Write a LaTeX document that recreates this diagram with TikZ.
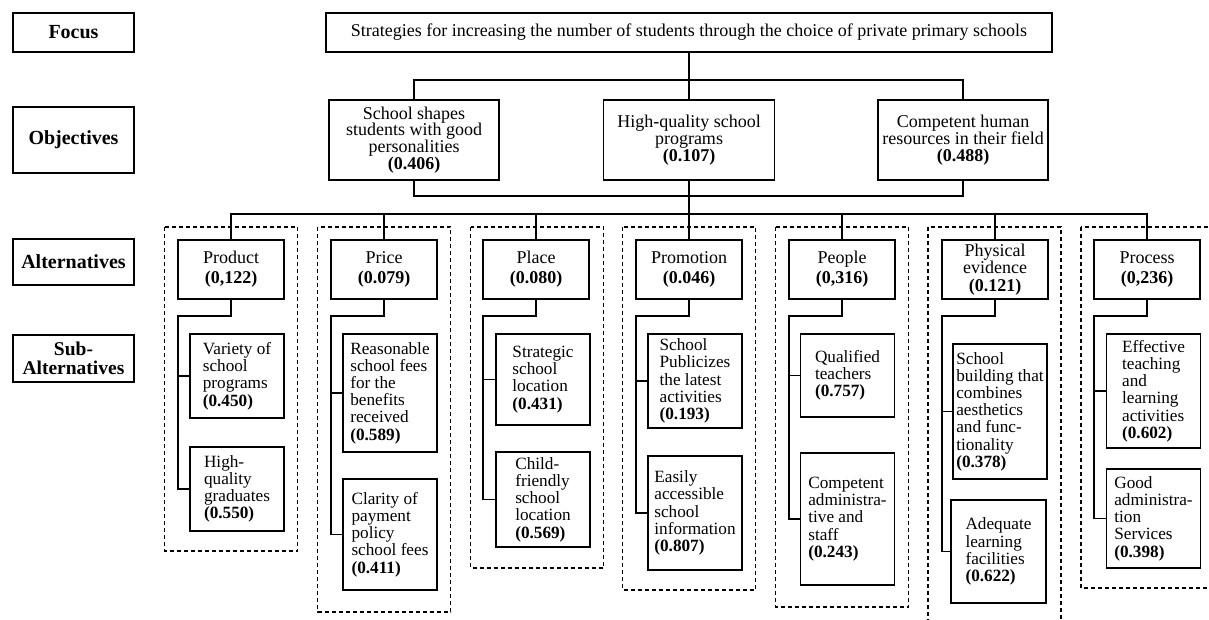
\documentclass[tikz,border=0pt]{standalone}
\usepackage{fontspec}
\setmainfont{Liberation Serif}
\begin{document}
\begin{tikzpicture}[x=1pt,y=-1pt,
  box/.style={draw, line width=1.1pt, inner sep=0pt, align=center, font=\fontsize{18}{16.8}\selectfont},
  lab/.style={draw, line width=2.4pt, inner sep=0pt, align=center, font=\fontsize{20}{16.5}\selectfont\bfseries, minimum width=121pt},
  alt/.style={box, minimum width=106pt, minimum height=59pt, font=\fontsize{18}{20}\selectfont},
  sub/.style={box, minimum width=94pt, align=left, font=\fontsize{17.2}{17.2}\selectfont},
  con/.style={line width=1.1pt},
  grp/.style={line width=1.2pt, dash pattern=on 4pt off 3pt}]
\useasboundingbox (0,0) rectangle (1209,619);
\clip (0,0) rectangle (1209,619);

% level labels
\node[lab, minimum height=39pt] (Lfocus) at (73.5,32.5) {Focus};
\node[lab, minimum height=66pt] (Lobj) at (73.5,140) {Objectives};
\node[lab, minimum height=46pt] (Lalt) at (73.5,262) {Alternatives};
\node[lab, minimum height=47pt, font=\fontsize{19.5}{19.5}\selectfont\bfseries] (Lsub) at (73.5,358.5) {Sub-\\Alternatives};

% focus and objectives
\node[box, minimum width=726pt, minimum height=39pt] (focus) at (689,32.5) {Strategies for increasing the number of students through the choice of private primary schools};
\node[box, minimum width=170pt, minimum height=80pt] (o1) at (414,140) {School shapes\\students with good\\personalities\\\textbf{(0.406)}};
\node[box, minimum width=171pt, minimum height=80pt] (o2) at (689,140) {High-quality school\\programs\\\textbf{(0.107)}};
\node[box, minimum width=170pt, minimum height=80pt] (o3) at (963,140) {Competent human\\resources in their field\\\textbf{(0.488)}};

% group frames
\draw[grp] (164.5,227) rectangle (297.5,551);
\draw[grp] (317.5,227) rectangle (450.5,612);
\draw[grp] (470.5,227) rectangle (603.5,568);
\draw[grp] (622.5,227) rectangle (755.5,590);
\draw[grp] (775.5,227) rectangle (908.5,607);
\draw[grp] (928,227) rectangle (1061,640);
\draw[grp] (1081,227) rectangle (1214,588);

% alternatives
\node[alt] (a1) at (231,269.5) {Product\\\textbf{(0,122)}};
\node[alt] (a2) at (384,269.5) {Price\\\textbf{(0.079)}};
\node[alt] (a3) at (536,269.5) {Place\\\textbf{(0.080)}};
\node[alt] (a4) at (689,269.5) {Promotion\\\textbf{(0.046)}};
\node[alt] (a5) at (842,269.5) {People\\\textbf{(0,316)}};
\node[alt, font=\fontsize{18}{17.5}\selectfont] (a6) at (995,269.5) {Physical\\evidence\\\textbf{(0.121)}};
\node[alt] (a7) at (1147,269.5) {Process\\\textbf{(0,236)}};

% sub-alternatives
\node[sub, minimum height=84pt] (s11) at (237,376) {Variety of\\school\\programs\\\textbf{(0.450)}};
\node[sub, minimum height=84pt] (s12) at (237,489) {High-\\quality\\graduates\\\textbf{(0.550)}};
\node[sub, minimum height=118pt] (s21) at (390,393) {Reasonable\\school fees\\for the\\benefits\\received\\\textbf{(0.589)}};
\node[sub, minimum height=111pt] (s22) at (390,534.5) {Clarity of\\payment\\policy\\school fees\\\textbf{(0.411)}};
\node[sub, minimum height=91pt] (s31) at (543,379.5) {Strategic\\school\\location\\\textbf{(0.431)}};
\node[sub, minimum height=95pt] (s32) at (543,499.5) {Child-\\friendly\\school\\location\\\textbf{(0.569)}};
\node[sub, minimum height=94pt] (s41) at (695,381) {School\\Publicizes\\the latest\\activities\\\textbf{(0.193)}};
\node[sub, minimum height=114pt] (s42) at (695,513) {Easily\\accessible\\school\\information\\\textbf{(0.807)}};
\node[sub, minimum height=83pt] (s51) at (847.5,375.5) {Qualified\\teachers\\\textbf{(0.757)}};
\node[sub, minimum height=132pt] (s52) at (847.5,519) {Competent\\administra-\\tive and\\staff\\\textbf{(0.243)}};
\node[sub, minimum height=135pt] (s61) at (1000,411.5) {School\\building that\\combines\\aesthetics\\and func-\\tionality\\\textbf{(0.378)}};
\node[sub, minimum width=95pt, minimum height=103pt] (s62) at (998.5,551.5) {Adequate\\learning\\facilities\\\textbf{(0.622)}};
\node[sub, minimum height=114pt] (s71) at (1153.5,391) {Effective\\teaching\\and\\learning\\activities\\\textbf{(0.602)}};
\node[sub, minimum height=99pt] (s72) at (1153.5,518.5) {Good\\administra-\\tion\\Services\\\textbf{(0.398)}};

% connectors: focus to objectives
\coordinate (t) at (689,80);
\coordinate (b) at (689,196);
\coordinate (bus) at (689,214);
\draw[con] (focus.south) -- (o2.north);
\draw[con] (o1.north) |- (t) -| (o3.north);
\draw[con] (o1.south) |- (b) -| (o3.south);
\draw[con] (o2.south) -- (a4.north);
\draw[con] (a1.north) |- (bus) -| (a7.north);
\foreach \a in {a2,a3,a5,a6} \draw[con] (\a.north) -- (\a.north |- bus);

% trunks to sub-alternatives
\coordinate (j1) at (178,316);
\coordinate (j2) at (331,316);
\coordinate (j3) at (483,316);
\coordinate (j4) at (636,316);
\coordinate (j5) at (789,316);
\coordinate (j6) at (942,316);
\coordinate (j7) at (1094,316);
\foreach \i in {1,...,7} {
  \draw[con] (a\i.south) |- (j\i) |- (s\i2.west);
  \draw[con] (j\i |- s\i1.west) -- (s\i1.west);
}
\end{tikzpicture}
\end{document}
